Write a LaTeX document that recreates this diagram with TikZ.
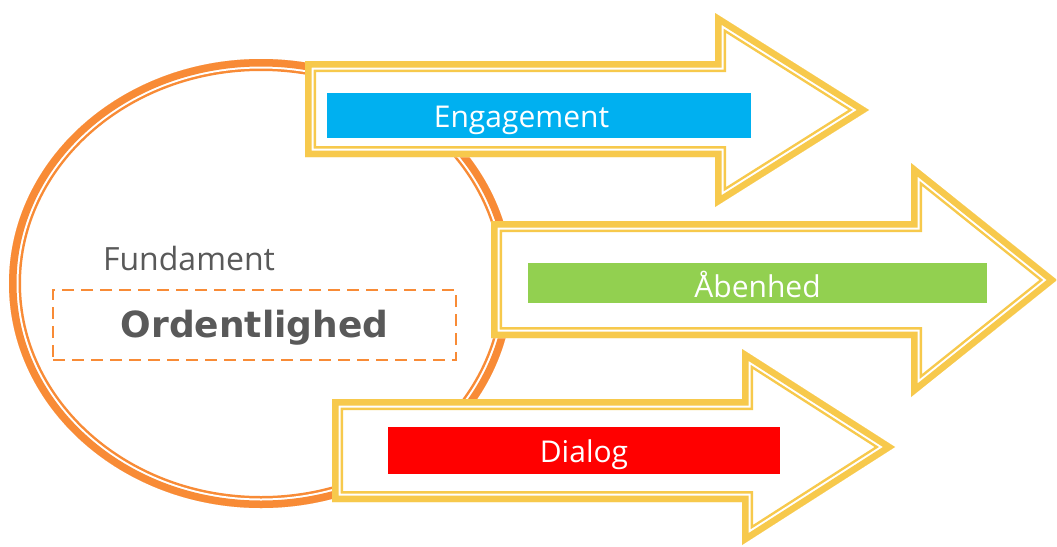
\documentclass[tikz,border=0pt]{standalone}
\usepackage{fontspec}
\setmainfont{Open Sans}
\newfontfamily\heavyfont{DejaVu Sans}
\usetikzlibrary{positioning}

\definecolor{arrowyellow}{RGB}{247,201,76}
\definecolor{ringorange}{RGB}{248,139,54}
\definecolor{barblue}{RGB}{0,176,240}
\definecolor{bargreen}{RGB}{146,208,80}
\definecolor{barred}{RGB}{255,0,0}
\definecolor{textgray}{RGB}{89,89,89}

% outline of a fat arrow: left, shaft top, shaft bottom, head back, head top, head bottom, tip
\newcommand{\fatarrow}[7]{(#1,#2) -- (#4,#2) -- (#4,#5) -- (#7,{(#5+#6)/2}) -- (#4,#6) -- (#4,#3) -- (#1,#3) -- cycle}
% thick-thin line on the inside of a closed path
\newcommand{\thickthin}[3][0]{%
    \begin{scope}
        \clip #3;
        \fill[white] #3;
        \draw[#2, line width=22+#1] #3;
        \draw[white, line width=17+#1] #3;
        \draw[#2, line width=13+#1] #3;
    \end{scope}}

\begin{document}
\begin{tikzpicture}[x=1pt, y=-1pt, line join=miter,
                    bar/.style={inner sep=0pt, draw=none},
                    bartext/.style={anchor=base, text=white, font=\fontsize{30}{36}\selectfont},
                    every node/.style={align=center}]

    \useasboundingbox (0,0) rectangle (1057,546);

    % Ring
    \thickthin[2]{ringorange}{(261,283.5) ellipse [x radius=252, y radius=224.5]}

    % Foundation
    \node[anchor=base, text=textgray, font=\fontsize{32}{38}\selectfont] (fundament) at (189,270) {Fundament};
    \node[draw=ringorange, line width=2.2pt, dash pattern=on 12pt off 7pt,
          minimum width=403, minimum height=70, inner sep=0pt] (ordbox) at (254.5,325) {};
    \node[anchor=base, text=textgray, font=\heavyfont\bfseries\fontsize{36}{42}\selectfont] (ordtext) at (254.5,337) {Ordentlighed};

    % Arrows
    \thickthin{arrowyellow}{\fatarrow{305}{61}{157}{715}{13}{207}{869}}
    \thickthin{arrowyellow}{\fatarrow{491}{221}{338}{911}{163}{397}{1057}}
    \thickthin{arrowyellow}{\fatarrow{332}{399}{502}{742}{349}{545}{895}}

    % Bars
    \node[bar, fill=barblue, minimum width=424, minimum height=45] (engbar) at (539,115.5) {};
    \node[bartext] (engtext) at (521.5,127) {Engagement};

    \node[bar, fill=bargreen, minimum width=459, minimum height=40] (abebar) at (757.5,283) {};
    \node[bartext] (abetext) at (757.5,297) {Åbenhed};

    \node[bar, fill=barred, minimum width=392, minimum height=47] (diabar) at (584,450.5) {};
    \node[bartext] (diatext) at (584,462) {Dialog};

\end{tikzpicture}
\end{document}
